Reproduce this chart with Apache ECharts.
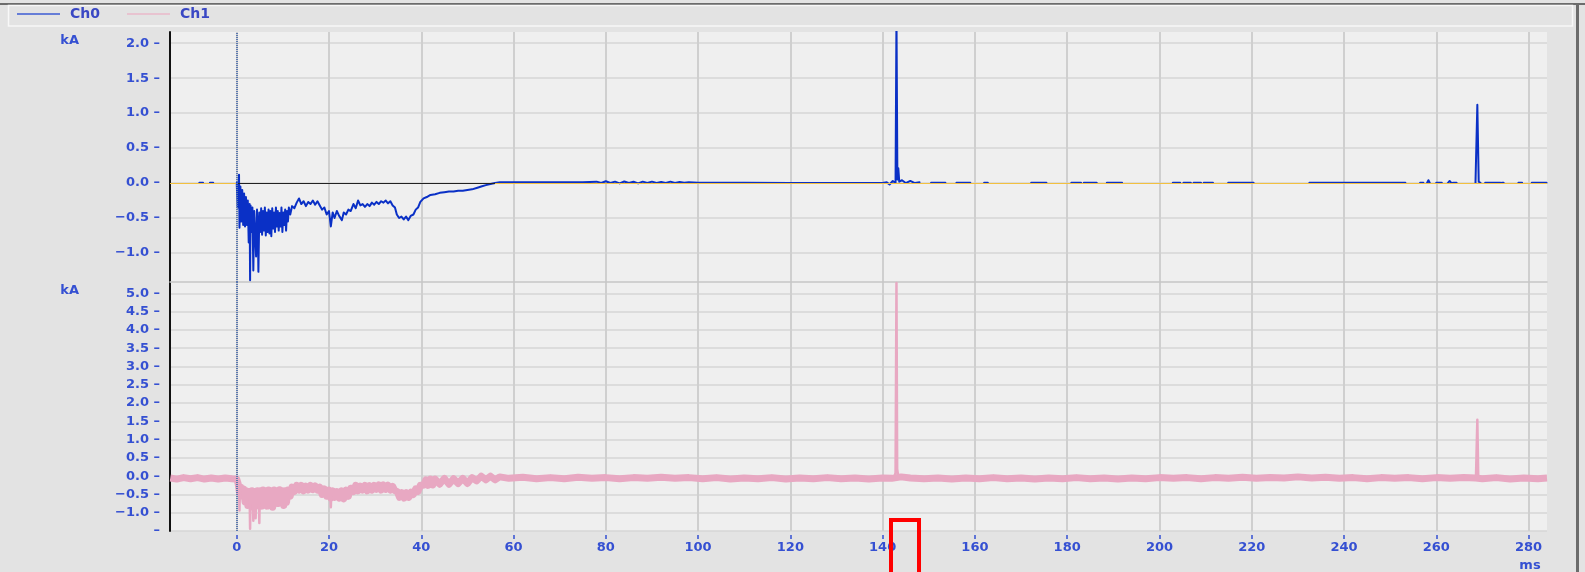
<!DOCTYPE html>
<html><head><meta charset="utf-8">
<script src="https://cdn.jsdelivr.net/npm/echarts@6/dist/echarts.min.js"></script>
<style>html,body{margin:0;padding:0;background:#e3e3e3;}#c{width:1585px;height:572px;}</style>
</head><body><div id="c"></div>
<script>
// ---- tick labels ----
const xTicks = [0, 20, 40, 60, 80, 100, 120, 140, 160, 180, 200, 220, 240, 260, 280];
const yTopTicks = [-1.0, -0.5, 0.0, 0.5, 1.0, 1.5, 2.0];
const yBotTicks = [-1.5, -1.0, -0.5, 0.0, 0.5, 1.0, 1.5, 2.0, 2.5, 3.0, 3.5, 4.0, 4.5, 5.0];
const seriesNames = ['Ch0', 'Ch1'];
const unitY = 'kA';
const unitX = 'ms';

// ---- Ch0 (kA vs ms) ----
const ch0Main = [
[0.0,0.0],[0.2,-0.35],[0.4,-0.03],[0.5,0.12],[0.6,-0.64],[0.8,-0.05],[1.0,-0.55],[1.2,-0.1],[1.4,-0.6],[1.6,-0.15],
[1.8,-0.62],[2.0,-0.2],[2.2,-0.6],[2.4,-0.25],[2.6,-0.85],[2.8,-0.3],[2.9,-1.39],[3.0,-0.32],[3.2,-0.7],[3.4,-0.35],
[3.6,-1.25],[3.8,-0.4],[4.0,-0.72],[4.2,-1.05],[4.4,-0.38],[4.6,-0.75],[4.7,-1.27],[4.9,-0.42],[5.1,-0.7],[5.3,-0.36],
[5.5,-0.74],[5.7,-0.4],[5.9,-0.68],[6.1,-0.35],[6.3,-0.75],[6.5,-0.42],[6.7,-0.7],[6.9,-0.38],[7.1,-0.72],[7.3,-0.4],
[7.5,-0.76],[7.7,-0.36],[7.9,-0.65],[8.1,-0.42],[8.3,-0.7],[8.5,-0.35],[8.7,-0.62],[8.9,-0.4],[9.1,-0.68],[9.3,-0.43],
[9.5,-0.62],[9.7,-0.35],[9.9,-0.7],[10.1,-0.42],[10.3,-0.6],[10.5,-0.38],[10.7,-0.68],[10.9,-0.4],[11.1,-0.55],[11.3,-0.35],
[11.6,-0.45],
[12.0,-0.33],[12.5,-0.36],[13.0,-0.28],[13.5,-0.22],[14.0,-0.3],[14.5,-0.26],[15.0,-0.33],[15.5,-0.27],[16.0,-0.3],[16.5,-0.25],
[17.0,-0.31],[17.5,-0.26],[18.0,-0.32],[18.5,-0.38],[19.0,-0.35],[19.5,-0.45],[20.0,-0.4],[20.4,-0.62],[20.8,-0.42],[21.2,-0.5],
[21.7,-0.4],[22.2,-0.47],[22.8,-0.53],[23.2,-0.42],[23.7,-0.45],[24.2,-0.38],[24.7,-0.4],[25.3,-0.3],[25.8,-0.36],[26.3,-0.25],
[26.8,-0.32],[27.3,-0.3],[27.8,-0.34],[28.3,-0.3],[28.8,-0.33],[29.3,-0.28],[29.8,-0.31],[30.3,-0.27],[30.8,-0.3],[31.3,-0.26],
[31.8,-0.28],[32.3,-0.25],[32.8,-0.29],[33.3,-0.26],[33.8,-0.32],[34.3,-0.35],[34.7,-0.45],[35.2,-0.5],[35.7,-0.48],[36.2,-0.52],
[36.7,-0.48],[37.2,-0.53],[37.7,-0.47],[38.3,-0.45],[38.8,-0.38],[39.3,-0.35],[39.8,-0.27],[40.5,-0.22],[41.2,-0.2],[42.0,-0.17],
[43.0,-0.16],[44.0,-0.14],[45.0,-0.13],[46.0,-0.12],[47.0,-0.12],[48.0,-0.11],[49.0,-0.11],[50.0,-0.1],[51.0,-0.09],[52.0,-0.07],
[53.0,-0.05],[54.0,-0.03],[55.0,-0.015],[56.0,0.0],[57.0,0.01],
[60,0.01],[65,0.01],[70,0.012],[75,0.01],[78,0.02],[79,0.0],[80,0.025],[81,0.0],[82,0.02],[83,-0.005],
[84,0.022],[85,0.0],[86,0.018],[87,-0.005],[88,0.02],[89,0.0],[90,0.02],[91,0.0],[92,0.015],[93,0.0],
[94,0.02],[95,0.0],[96,0.015],[97,0.005],[98,0.012],[100,0.005],[110,0.003],[120,0.002],[130,0.0],[140,0.0],
[140.9,0.01],[141.5,-0.02],[142.2,0.03],[142.8,0.0],[143.0,2.4],[143.2,0.05],[143.4,0.21],[143.6,0.02],[144.2,0.04],[145,0.0],
[146,0.03],[147,0.0],[148,0.01]
];
// short flat pieces of Ch0 (start ms, end ms) at level ch0DashLevel
const ch0Dashes = [[-8.1,-7.3],[-5.8,-5.1],[150.5,153.6],[156.0,159.0],[162.0,162.8],[172.2,175.5],[180.9,183.0],[183.6,186.4],
[188.6,191.9],[202.9,204.5],[205.2,206.8],[207.4,209.0],[209.6,211.6],[214.9,220.4],[232.5,253.3],[256.5,257.2],[260.0,261.2],
[263.6,264.4],[270.6,273.9],[274.2,274.6],[277.8,278.6],[280.7,283.9]];
const ch0DashLevel = 0.005;
const ch0Blips = [
  [[258.0,0.0],[258.3,0.04],[258.6,0.0]],
  [[262.5,0.0],[262.9,0.03],[263.3,0.0]],
  [[268.5,0.0],[268.9,1.12],[269.2,0.02],[269.6,0.0]]
];

// ---- Ch1 (kA vs ms) ----
const ch1Pre = [[-14.4,-0.05],[-13,-0.08],[-11.5,-0.04],[-10,-0.07],[-8.5,-0.04],[-7,-0.08],[-5.5,-0.05],[-4,-0.08],[-2.5,-0.05],[-1,-0.07]];
const ch1Active = [
[0.0,-0.08],[0.3,-0.2],[0.6,-0.45],[0.9,-0.3],[1.2,-0.55],[1.5,-0.35],[1.8,-0.7],[2.1,-0.4],[2.4,-0.8],[2.7,-0.42],
[3.0,-0.8],[3.3,-0.4],[3.6,-0.85],[3.9,-0.42],[4.2,-0.82],[4.5,-0.4],[4.8,-0.8],[5.1,-0.4],[5.4,-0.82],[5.7,-0.38],
[6.0,-0.78],[6.3,-0.4],[6.6,-0.82],[6.9,-0.38],[7.2,-0.75],[7.5,-0.4],[7.8,-0.85],[8.1,-0.38],[8.4,-0.72],[8.7,-0.4],
[9.0,-0.75],[9.3,-0.37],[9.6,-0.7],[9.9,-0.4],[10.2,-0.8],[10.5,-0.4],[10.8,-0.72],[11.1,-0.38],[11.6,-0.55],[12.0,-0.3],
[12.5,-0.42],[13.0,-0.25],[13.5,-0.38],[14.0,-0.25],[14.5,-0.4],[15.0,-0.27],[15.5,-0.38],[16.0,-0.25],[16.5,-0.37],[17.0,-0.27],
[17.5,-0.38],[18.0,-0.3],[18.5,-0.5],[19.0,-0.35],[19.5,-0.55],[20.0,-0.38],[20.4,-0.6],[20.8,-0.4],[21.2,-0.58],[21.7,-0.42],
[22.2,-0.6],[22.7,-0.4],[23.2,-0.62],[23.7,-0.38],[24.2,-0.55],[24.7,-0.33],[25.3,-0.42],[25.8,-0.25],[26.3,-0.4],[26.8,-0.27],
[27.3,-0.38],[27.8,-0.25],[28.3,-0.4],[28.8,-0.26],[29.3,-0.38],[29.8,-0.25],[30.3,-0.36],[30.8,-0.24],[31.3,-0.38],[31.8,-0.24],
[32.3,-0.36],[32.8,-0.25],[33.3,-0.38],[33.8,-0.28],[34.3,-0.4],[34.8,-0.42],[35.3,-0.58],[35.8,-0.45],[36.3,-0.6],[36.8,-0.45],
[37.3,-0.58],[37.8,-0.44],[38.3,-0.5],[38.8,-0.35],[39.3,-0.42],[39.8,-0.25],[40.5,-0.25],[41.0,-0.1],[41.5,-0.25],[42.0,-0.08],
[42.5,-0.24],[43.0,-0.08],[44.0,-0.22],[45.0,-0.06],[46.0,-0.22],[47.0,-0.07],[48.0,-0.2],[49.0,-0.06],[50.0,-0.2],[51.0,-0.04],
[52.0,-0.13],[53.0,0.0],[54.0,-0.1],[55.0,0.0],[56.0,-0.1],[57.0,-0.02]
];
const ch1Steady = [
[59,-0.06],[62,-0.03],[65,-0.07],[68,-0.04],[71,-0.07],[74,-0.03],[77,-0.06],[80,-0.04],[83,-0.07],[86,-0.04],
[89,-0.06],[92,-0.03],[95,-0.06],[98,-0.04],[101,-0.07],[104,-0.04],[107,-0.08],[110,-0.05],[113,-0.07],[116,-0.04],
[119,-0.08],[122,-0.05],[125,-0.07],[128,-0.04],[131,-0.07],[134,-0.05],[137,-0.08],[140,-0.05],[142,-0.06],[144,-0.02],
[146,-0.05],[149,-0.07],[152,-0.05],[155,-0.08],[158,-0.05],[161,-0.07],[164,-0.04],[167,-0.07],[170,-0.05],[173,-0.08],
[176,-0.05],[179,-0.07],[182,-0.04],[185,-0.07],[188,-0.05],[191,-0.08],[194,-0.05],[197,-0.07],[200,-0.04],[203,-0.06],
[206,-0.04],[209,-0.07],[212,-0.04],[215,-0.06],[218,-0.03],[221,-0.06],[224,-0.04],[227,-0.05],[230,-0.02],[233,-0.05],
[236,-0.03],[239,-0.06],[242,-0.04],[245,-0.07],[248,-0.04],[251,-0.06],[254,-0.04],[257,-0.07],[260,-0.04],[263,-0.06],
[266,-0.04],[268.5,-0.05],[270,-0.07],[273,-0.04],[276,-0.08],[279,-0.05],[282,-0.07],[284,-0.05]
];
// narrow excursions of Ch1
const ch1Spikes = [
  [[0.5,-0.3],[0.6,-0.94],[0.7,-0.35]],
  [[2.8,-0.6],[2.9,-1.44],[3.0,-0.6]],
  [[3.5,-0.6],[3.6,-1.22],[3.7,-0.6]],
  [[4.0,-0.6],[4.1,-1.15],[4.2,-0.6]],
  [[4.8,-0.6],[4.9,-1.28],[5.0,-0.6]],
  [[20.3,-0.5],[20.4,-0.85],[20.5,-0.5]],
  [[142.5,-0.05],[142.8,0.1],[143.0,5.28],[143.15,0.2],[143.4,-0.02]],
  [[268.6,-0.05],[268.9,1.54],[269.1,-0.03]]
];

// ---- build series data ----
const GAP = ['-', '-'];
function joinPieces(pieces) {
  pieces.sort((a, b) => a[0][0] - b[0][0]);
  const out = [];
  pieces.forEach((p, i) => { if (i) out.push(GAP); p.forEach(pt => out.push(pt)); });
  return out;
}
const ch0Pieces = [ch0Main].concat(ch0Dashes.map(d => [[d[0], ch0DashLevel], [d[1], ch0DashLevel]]), ch0Blips);
const ch0Data = joinPieces(ch0Pieces);
const ch1BandData = ch1Pre.concat(ch1Active, ch1Steady);
const ch1SpikeData = joinPieces(ch1Spikes.slice());

const labelColor = '#3550d2';
const fontFam = 'DejaVu Sans';
const fmtY = v => (Math.abs(v + 1.5) < 1e-9) ? '\u2013' : (v.toFixed(1).replace('-', '\u2212') + ' \u2013');

const xMin = -14.46, xMax = 284.0;

const chart = echarts.init(document.getElementById('c'), null, {renderer: 'canvas'});
chart.setOption({
  animation: false,
  backgroundColor: '#e3e3e3',
  legend: {
    data: [
      {name: seriesNames[0], itemStyle: {color: '#3d5bd3'}},
      {name: seriesNames[1], itemStyle: {color: '#eab8ca'}}
    ],
    icon: 'rect', itemWidth: 43, itemHeight: 1.5, itemGap: 27,
    left: 17, top: 7, padding: 0,
    textStyle: {color: '#3a48c4', fontSize: 14, fontWeight: 'bold', fontFamily: fontFam, padding: [0, 0, 0, 5]}
  },
  grid: [
    {left: 170, top: 32, width: 1377, height: 250, show: true, backgroundColor: '#efefef', borderWidth: 0},
    {left: 170, top: 282, width: 1377, height: 249, show: true, backgroundColor: '#efefef', borderWidth: 0}
  ],
  xAxis: [
    {gridIndex: 0, type: 'value', min: xMin, max: xMax,
     axisLine: {show: true, onZero: false, lineStyle: {color: '#c6c6c6', width: 1.5}},
     axisTick: {show: false, customValues: xTicks},
     axisLabel: {show: false, customValues: xTicks},
     splitLine: {show: true, lineStyle: {color: '#cfcfcf', width: 2}}},
    {gridIndex: 1, type: 'value', min: xMin, max: xMax, offset: 4,
     axisLine: {show: false, onZero: false},
     axisTick: {show: true, length: 4, customValues: xTicks, lineStyle: {color: labelColor, width: 1.5}},
     axisLabel: {customValues: xTicks, margin: 6, color: labelColor, fontSize: 13, fontWeight: 'bold', fontFamily: fontFam},
     splitLine: {show: true, lineStyle: {color: '#cfcfcf', width: 2}},
     name: unitX, nameLocation: 'end', nameGap: -17,
     nameTextStyle: {color: labelColor, fontSize: 13, fontWeight: 'bold', fontFamily: fontFam, align: 'center', verticalAlign: 'top', padding: [24, 0, 0, 0]}}
  ],
  yAxis: [
    {gridIndex: 0, type: 'value', min: -1.415, max: 2.16,
     axisLine: {show: true, onZero: false, lineStyle: {color: '#111111', width: 2}},
     axisTick: {show: false, customValues: yTopTicks},
     axisLabel: {customValues: yTopTicks, formatter: fmtY, margin: 10, color: labelColor, fontSize: 13, fontWeight: 'bold', fontFamily: fontFam},
     splitLine: {show: true, lineStyle: {color: '#d6d6d6', width: 1.5}},
     name: unitY, nameLocation: 'end', nameGap: -9,
     nameTextStyle: {color: labelColor, fontSize: 13, fontWeight: 'bold', fontFamily: fontFam, align: 'right', verticalAlign: 'middle', padding: [0, 91, 0, 0]}},
    {gridIndex: 1, type: 'value', min: -1.5, max: 5.31,
     axisLine: {show: true, onZero: false, lineStyle: {color: '#111111', width: 2}},
     axisTick: {show: false, customValues: yBotTicks},
     axisLabel: {customValues: yBotTicks, formatter: fmtY, margin: 10, color: labelColor, fontSize: 13, fontWeight: 'bold', fontFamily: fontFam},
     splitLine: {show: true, lineStyle: {color: '#d6d6d6', width: 1.5}},
     name: unitY, nameLocation: 'end', nameGap: -9,
     nameTextStyle: {color: labelColor, fontSize: 13, fontWeight: 'bold', fontFamily: fontFam, align: 'right', verticalAlign: 'middle', padding: [0, 91, 0, 0]}}
  ],
  series: [
    {name: 'ref0', type: 'line', xAxisIndex: 0, yAxisIndex: 0, data: [[0, 0]], showSymbol: false, symbol: 'none',
     lineStyle: {opacity: 0}, z: 1, silent: true,
     markLine: {silent: true, symbol: 'none', label: {show: false}, animation: false,
       data: [
         {yAxis: 0, lineStyle: {color: '#f2c040', width: 1.2, type: 'solid'}},
         [{coord: [0, 0], lineStyle: {color: '#222222', width: 1.2, type: 'solid'}}, {coord: [56, 0]}],
         {xAxis: 0, lineStyle: {color: '#5a78b0', width: 2, type: [1, 1]}}
       ]}},
    {name: 'ref1', type: 'line', xAxisIndex: 1, yAxisIndex: 1, data: [[0, 0]], showSymbol: false, symbol: 'none',
     lineStyle: {opacity: 0}, z: 1, silent: true,
     markLine: {silent: true, symbol: 'none', label: {show: false}, animation: false,
       data: [
         {xAxis: 0, lineStyle: {color: '#5a78b0', width: 2, type: [1, 1]}}
       ]}},
    {name: seriesNames[0], type: 'line', xAxisIndex: 0, yAxisIndex: 0, data: ch0Data, showSymbol: false, symbol: 'none',
     clip: true, z: 3, lineStyle: {color: '#0a30c6', width: 2, join: 'round', cap: 'round'}, itemStyle: {color: '#3d5bd3'}},
    {name: seriesNames[1], type: 'line', xAxisIndex: 1, yAxisIndex: 1, data: ch1BandData, showSymbol: false, symbol: 'none',
     clip: true, z: 3, lineStyle: {color: '#e8a8c2', width: 7, join: 'round'}, itemStyle: {color: '#eab8ca'}},
    {name: seriesNames[1], type: 'line', xAxisIndex: 1, yAxisIndex: 1, data: ch1SpikeData, showSymbol: false, symbol: 'none',
     clip: true, z: 3, lineStyle: {color: '#e8a8c2', width: 2.5, join: 'round'}, itemStyle: {color: '#eab8ca'}}
  ],
  graphic: [
    {type: 'rect', shape: {x: 0, y: 3, width: 1585, height: 2}, style: {fill: '#6c6c6c'}, silent: true, z: 10},
    {type: 'rect', shape: {x: 1576, y: 3, width: 3, height: 569}, style: {fill: '#6c6c6c'}, silent: true, z: 10},
    {type: 'rect', shape: {x: 8.5, y: 5.5, width: 1564, height: 20.5}, style: {fill: 'none', stroke: '#f8f8f8', lineWidth: 1.5}, silent: true, z: 10},
    {type: 'rect', shape: {x: 891, y: 520, width: 28, height: 70}, style: {fill: 'none', stroke: '#ff0000', lineWidth: 4}, silent: true, z: 20}
  ]
});
</script></body></html>
